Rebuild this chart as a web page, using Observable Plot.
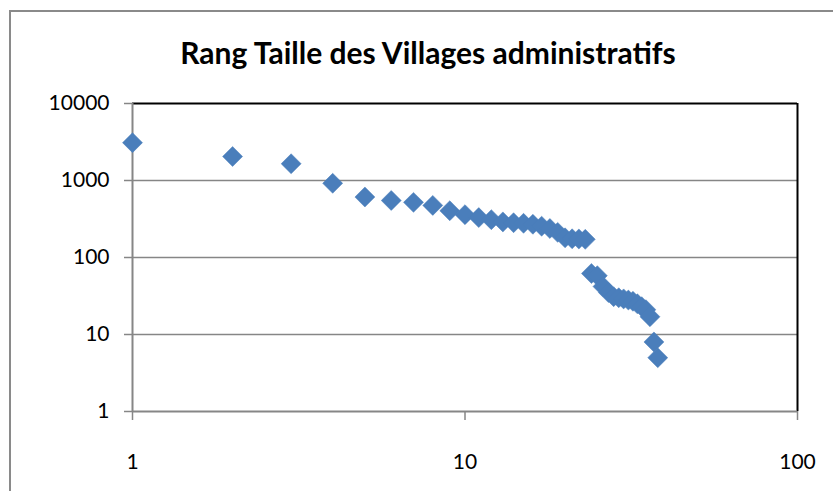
<!DOCTYPE html>
<html>
<head>
<meta charset="utf-8">
<script src="https://cdn.jsdelivr.net/npm/d3@7"></script>
<script src="https://cdn.jsdelivr.net/npm/@observablehq/plot@0.6"></script>
<style>
  html, body { margin: 0; padding: 0; background: #fff; overflow: hidden; }
  #wrap { position: relative; width: 833px; height: 491px; overflow: hidden; background: #fff; }
  #frame { position: absolute; left: 9px; top: 10px; width: 1000px; height: 1000px;
           border-left: 2.5px solid #8a8a8a; border-top: 2px solid #8a8a8a; }
  #title { position: absolute; left: 0; width: 856px; top: 34px; text-align: center;
           font-family: Lato, "Open Sans", sans-serif; font-weight: bold; font-size: 30px; line-height: 36px; color: #000; }
  #chart { position: absolute; left: 0; top: 80px; }
</style>
</head>
<body>
<div id="wrap">
  <div id="frame"></div>
  <div id="title">Rang Taille des Villages administratifs</div>
  <div id="chart"></div>
</div>
<script>
const title = "Rang Taille des Villages administratifs";
const ranks = [1, 2, 3, 4, 5, 6, 7, 8, 9, 10, 11, 12, 13, 14, 15, 16, 17, 18, 19, 20,
               21, 22, 23, 24, 25, 26, 27, 28, 29, 30, 31, 32, 33, 34, 35, 36, 37, 38];
const sizes = [3100, 2050, 1650, 920, 610, 550, 520, 475, 405, 360, 330, 310, 290, 283, 278, 270, 255, 238, 212, 180,
               175, 174, 172, 62, 58, 42, 35, 31, 30, 29, 28, 27, 25, 23, 21, 17, 8, 5];
const xTicks = [1, 10, 100];
const yTicks = [1, 10, 100, 1000, 10000];
const gridValues = [10, 100, 1000];

const data = ranks.map((r, i) => ({rank: r, size: sizes[i]}));
const gray = "#868686";
const fontFamily = "Lato, 'Open Sans', sans-serif";

const chart = Plot.plot({
  width: 833,
  height: 411,
  marginLeft: 132,
  marginRight: 36,
  marginTop: 23,
  marginBottom: 80,
  style: {fontFamily, fontSize: "21px", color: "#000", background: "transparent", overflow: "visible"},
  x: {type: "log", domain: [1, 100]},
  y: {type: "log", domain: [1, 10000]},
  marks: [
    Plot.ruleY(gridValues, {stroke: gray, strokeWidth: 1.5}),
    Plot.ruleY([10000], {stroke: "#000", strokeWidth: 2}),
    Plot.ruleX([100], {stroke: "#000", strokeWidth: 2}),
    Plot.ruleY([1], {stroke: gray, strokeWidth: 2}),
    Plot.ruleX([1], {stroke: gray, strokeWidth: 2}),
    Plot.axisY(yTicks, {tickSize: 8, tickPadding: 15, stroke: gray, strokeWidth: 1.5, fill: "#000",
                        tickFormat: d => String(d), fontSize: 21, label: null}),
    Plot.axisX(xTicks, {tickSize: 9, tickPadding: 34, stroke: gray, strokeWidth: 1.5, fill: "#000",
                        tickFormat: d => String(d), fontSize: 21, label: null}),
    Plot.dot(data, {x: "rank", y: "size", symbol: "diamond2", r: 9, fill: "#4A7EBB", stroke: "#4A7EBB", strokeWidth: 0.5})
  ]
});
document.getElementById("chart").appendChild(chart);
</script>
</body>
</html>
